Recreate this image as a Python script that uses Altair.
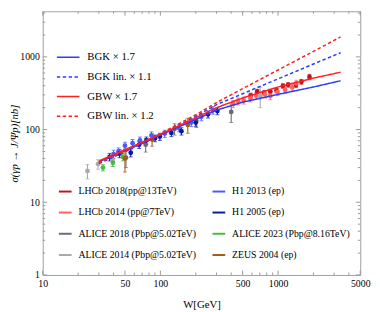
import altair as alt
import pandas as pd

# ---------------- axes ----------------
x_domain = [10, 5000]
y_domain = [1, 4240]
plot_w, plot_h = 324.5, 269.5

x_labels = [10, 50, 100, 500, 1000, 5000]
x_minor = [20, 30, 40, 60, 70, 80, 90, 200, 300, 400, 600, 700, 800, 900,
           2000, 3000, 4000]
y_labels = [1, 10, 100, 1000]
y_minor = [2, 3, 4, 5, 6, 7, 8, 9, 20, 30, 40, 50, 60, 70, 80, 90,
           200, 300, 400, 500, 600, 700, 800, 900, 2000, 3000, 4000]

# ---------------- model curves ----------------
curve_W = [30, 50, 100, 200, 300, 500, 1000, 2000, 3400]
bgk = [36, 51, 84, 138, 185, 238, 305, 385, 469]
bgk_lin = [34, 49.5, 85, 152, 220, 311, 498, 797, 1140]
gbw = [37, 53, 86, 145, 200, 272, 385, 510, 615]
gbw_lin = [35, 51, 88, 160, 235, 365, 660, 1190, 1880]
model_names = ["BGK × 1.7", "BGK lin. × 1.1", "GBW × 1.7", "GBW lin. × 1.2"]
model_values = [bgk, bgk_lin, gbw, gbw_lin]
model_colors = ["#2a3cff", "#2a3cff", "#ff2020", "#ff2020"]
model_dash = [[1, 0], [3.5, 2.5], [1, 0], [3.5, 2.5]]

# ---------------- data sets ----------------
lhcb18_W = [585, 665, 760, 860, 970, 1100, 1220, 1420, 1580, 1850]
lhcb18_s = [295, 334, 320, 335, 345, 398, 412, 410, 455, 530]
lhcb18_e = [22, 24, 22, 24, 25, 28, 30, 30, 35, 45]

lhcb14_W = [415, 458, 512, 583, 654, 775, 860, 990, 1150, 1320, 1430]
lhcb14_s = [225, 245, 252, 270, 292, 304, 290, 330, 350, 380, 432]
lhcb14_e = [25, 27, 28, 30, 32, 33, 32, 36, 38, 42, 45]

h1_13_W = [40, 44, 50, 58, 67, 84, 109, 144, 183, 223, 280]
h1_13_s = [46, 50, 60, 65, 71, 83, 88, 105, 125, 150, 185]
h1_13_e = [6, 6, 7, 8, 8, 10, 10, 12, 15, 18, 22]

h1_05_W = [37, 45, 56, 66, 76, 90, 99, 124, 151, 200, 254, 305]
h1_05_s = [42, 47, 48, 62, 71, 76, 80, 90, 95, 125, 162, 180]
h1_05_e = [5, 6, 6, 7, 8, 8, 9, 10, 11, 14, 18, 20]

alice18_W = [51, 75, 132, 202, 400]
alice18_s = [41, 62, 102, 132, 175]
alice18_e = [11, 13, 18, 25, 50]

alice23_W = [32.5, 39.5, 48]
alice23_s = [30, 35, 42]
alice23_e = [3, 4, 5]

alice14_W = [24, 29.5, 39, 706]
alice14_s = [27, 33.5, 38, 290]
alice14_e = [6, 5, 7, 90]

zeus_W = [50, 85, 171]
zeus_s = [40, 73, 116]
zeus_e = [14, 14, 27]

# legend is filled column by column
data_names = ["LHCb 2018(pp@13TeV)", "LHCb 2014 (pp@7TeV)",
              "ALICE 2018 (Pbp@5.02TeV)", "ALICE 2014 (Pbp@5.02TeV)",
              "H1 2013 (ep)", "H1 2005 (ep)",
              "ALICE 2023 (Pbp@8.16TeV)", "ZEUS 2004 (ep)"]
data_colors = ["#c0151f", "#ff6262", "#6a6a6a", "#aaaaaa",
               "#4a5aff", "#0a18a0", "#44bb44", "#a85a14"]
data_sets = [(lhcb18_W, lhcb18_s, lhcb18_e), (lhcb14_W, lhcb14_s, lhcb14_e),
             (alice18_W, alice18_s, alice18_e), (alice14_W, alice14_s, alice14_e),
             (h1_13_W, h1_13_s, h1_13_e), (h1_05_W, h1_05_s, h1_05_e),
             (alice23_W, alice23_s, alice23_e), (zeus_W, zeus_s, zeus_e)]

# ---------------- tables ----------------
curve_rows = []
for name, vals in zip(model_names, model_values):
    for w, v in zip(curve_W, vals):
        curve_rows.append({"model": name, "W": w, "sigma": v})
curves_df = pd.DataFrame(curve_rows)

pt_rows = []
for name, (ws, ss, es) in zip(data_names, data_sets):
    for w, s, e in zip(ws, ss, es):
        pt_rows.append({"dataset": name, "W": w, "sigma": s,
                        "lo": s - e, "hi": s + e})
pts_df = pd.DataFrame(pt_rows)
caps_df = pd.concat([
    pts_df.assign(yc=pts_df["lo"]),
    pts_df.assign(yc=pts_df["hi"]),
])

font = "Liberation Serif"
tick_color = "#9a9a9a"
xs = alt.Scale(type="log", domain=x_domain, nice=False)
ys = alt.Scale(type="log", domain=y_domain, nice=False)
color_scale = alt.Scale(domain=data_names, range=data_colors)

x_axis = alt.Axis(
    values=x_labels, format="d", ticks=False, domain=False, grid=False,
    labelFont=font, labelFontSize=10, labelColor="black", labelPadding=3.5,
    labelFlush=False, title="W[GeV]", titleFont=font, titleFontSize=11,
    titleFontWeight="normal", titleColor="black", titleY=30,
    titleBaseline="middle")
y_axis = alt.Axis(
    values=y_labels, format="d", ticks=False, domain=False, grid=False,
    labelFont=font, labelFontSize=10, labelColor="black", labelPadding=3.5,
    labelFlush=False, title="σ(γp → J/Ψp)[nb]", titleFont=font,
    titleFontSize=11, titleFontStyle="italic", titleFontWeight="normal",
    titleColor="black", titleX=-29, titleBaseline="middle")


def xticks(vals, length):
    d = pd.DataFrame({"v": vals})
    base = alt.Chart(d).mark_rule(color=tick_color, strokeWidth=1)
    bottom = base.encode(x=alt.X("v:Q", scale=xs, axis=x_axis),
                         y=alt.value(plot_h), y2=alt.value(plot_h - length))
    top = base.encode(x=alt.X("v:Q", scale=xs, axis=x_axis),
                      y=alt.value(0), y2=alt.value(length))
    return [bottom, top]


def yticks(vals, length):
    d = pd.DataFrame({"v": vals})
    base = alt.Chart(d).mark_rule(color=tick_color, strokeWidth=1)
    left = base.encode(y=alt.Y("v:Q", scale=ys, axis=y_axis),
                       x=alt.value(0), x2=alt.value(length))
    right = base.encode(y=alt.Y("v:Q", scale=ys, axis=y_axis),
                        x=alt.value(plot_w), x2=alt.value(plot_w - length))
    return [left, right]


tick_layers = (xticks(x_labels, 4.5) + xticks(x_minor, 2.5)
               + yticks(y_labels, 4.5) + yticks(y_minor, 2.5))

data_legend = alt.Legend(
    orient="none", legendX=15.5, legendY=176.5, title=None, columns=2,
    columnPadding=12, rowPadding=8.7, symbolType="stroke", symbolSize=169,
    symbolStrokeWidth=2, labelOffset=6, padding=0,
    labelFont=font, labelFontSize=10, labelColor="black")

err = alt.Chart(pts_df).mark_rule(strokeWidth=1.1).encode(
    x=alt.X("W:Q", scale=xs, axis=x_axis),
    y=alt.Y("lo:Q", scale=ys, axis=y_axis),
    y2="hi:Q",
    color=alt.Color("dataset:N", scale=color_scale, legend=data_legend),
)
caps = alt.Chart(caps_df).mark_tick(orient="horizontal", size=4, thickness=1).encode(
    x=alt.X("W:Q", scale=xs, axis=x_axis),
    y=alt.Y("yc:Q", scale=ys, axis=y_axis),
    color=alt.Color("dataset:N", scale=color_scale, legend=None),
)
pts = alt.Chart(pts_df).mark_circle(size=24, opacity=1).encode(
    x=alt.X("W:Q", scale=xs, axis=x_axis),
    y=alt.Y("sigma:Q", scale=ys, axis=y_axis),
    color=alt.Color("dataset:N", scale=color_scale, legend=None),
)

model_legend = dict(
    orient="none", legendX=19.5, legendY=40.5, title=None,
    symbolType="M-2.1,0H2.1", symbolSize=121, symbolStrokeWidth=1.6,
    labelOffset=13, rowPadding=8.1, padding=0, direction="vertical",
    labelFont=font, labelFontSize=11, labelColor="black")

curves = alt.Chart(curves_df).mark_line(strokeWidth=1.5).encode(
    x=alt.X("W:Q", scale=xs, axis=x_axis),
    y=alt.Y("sigma:Q", scale=ys, axis=y_axis),
    stroke=alt.Stroke("model:N", scale=alt.Scale(domain=model_names, range=model_colors),
                      legend=alt.Legend(**model_legend)),
    strokeDash=alt.StrokeDash("model:N", scale=alt.Scale(domain=model_names, range=model_dash),
                              legend=alt.Legend(**model_legend)),
)

chart = alt.layer(*tick_layers, err, caps, pts, curves).properties(
    width=plot_w, height=plot_h,
    padding={"left": 35.5, "top": 0, "right": 12, "bottom": 34},
    autosize=alt.AutoSizeParams(type="none"),
).configure_view(stroke="#a0a0a0", strokeWidth=1)

chart.save("out.html", embed_options={"renderer": "svg", "actions": False})
